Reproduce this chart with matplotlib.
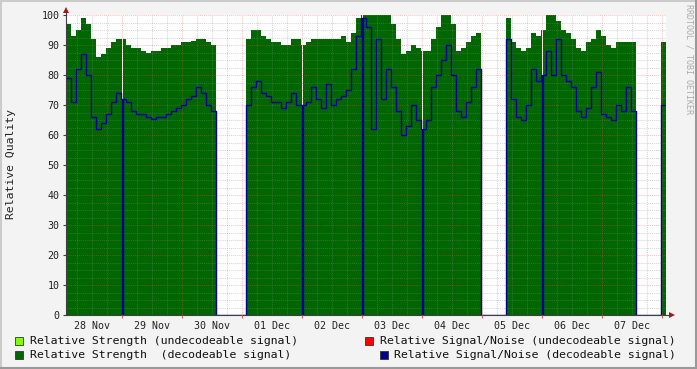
import numpy as np
import matplotlib
matplotlib.use("Agg")
import matplotlib.pyplot as plt
import matplotlib.transforms as mtransforms
from matplotlib.patches import Rectangle
from matplotlib.lines import Line2D

# ---------------- data ----------------
start_hour = 1.5      # hours after 28 Nov 00:00
step_hours = 2.0      # consolidation step
nan = np.nan

strength = [97, 93, 95, 99, 97, 92, 86, 87, 89, 91,
            92, 92, 90, 89, 89, 88, 87.5, 88, 88, 89,
            89, 90, 90, 91, 91, 91.5, 92, 92, 91, 90,
            nan, nan, nan, nan, nan, nan, 92, 95, 95, 93,
            92, 91, 91, 90, 90, 92, 92, 90, 91, 92,
            92, 92, 92, 92, 92, 93, 91, 94, 99, 100,
            100, 100, 100, 100, 100, 97, 92, 87, 88, 90,
            89, 88, 88, 92, 96, 100, 100, 97, 88, 89,
            91, 93, 94, nan, nan, nan, nan, nan, 99, 91,
            89, 88, 89, 94, 93, 95, 100, 100, 98, 95,
            94, 92, 89, 88, 91, 92, 95, 93, 90, 89,
            91, 91, 91, 91, nan, nan, nan, nan, nan, 91]

snr = [79, 71, 82, 87, 80, 66, 62, 64, 67, 71,
       74, 72, 71, 68, 67, 67, 66, 65.5, 66, 66,
       67, 68, 69, 70, 72, 73, 76, 74, 70, 68,
       nan, nan, nan, nan, nan, nan, 70, 76, 78, 74,
       73, 71, 71, 69, 71, 74, 70, 70, 71, 76,
       72, 69, 77, 70, 72, 73, 75, 82, 93, 99,
       96, 62, 92, 72, 82, 76, 68, 60, 63, 70,
       65, 62, 65, 76, 80, 85, 90, 80, 68, 66,
       71, 76, 82, nan, nan, nan, nan, nan, 92, 72,
       66, 65, 70, 82, 78, 80, 88, 80, 92, 80,
       78, 76, 68, 66, 69, 76, 81, 67, 66, 65,
       70, 68, 76, 68, nan, nan, nan, nan, nan, 70]

dropouts = [23.75, 95.75, 119.75, 143.75, 191.75]   # short outages (hours)
dropout_len = 0.5
day_labels = ["28 Nov", "29 Nov", "30 Nov", "01 Dec", "02 Dec",
              "03 Dec", "04 Dec", "05 Dec", "06 Dec", "07 Dec"]

legend_items = [
    ("Relative Strength (undecodeable signal)", "#80FF00"),
    ("Relative Strength  (decodeable signal)", "#006600"),
    ("Relative Signal/Noise (undecodeable signal)", "#FF0000"),
    ("Relative Signal/Noise (decodeable signal)", "#000099"),
]

# ---------------- build series ----------------
n = len(strength)
t = start_hour + step_hours * np.arange(n)
t_end = start_hour + step_hours * n


def with_dropouts(vals, fill):
    vals = np.asarray(vals, dtype=float)
    tt = list(t)
    vv = list(vals)
    for d in dropouts:
        i = int((d - start_hour) // step_hours)
        tt += [d, d + dropout_len]
        vv += [fill, vals[i]]
    order = np.argsort(tt, kind="stable")
    tt = np.array(tt)[order]
    vv = np.array(vv)[order]
    tt = np.append(tt, t_end)
    vv = np.append(vv, vv[-1])
    return tt, np.nan_to_num(vv, nan=0.0)


tg, gv = with_dropouts(strength, nan)
tb, bv = with_dropouts(snr, 0.0)

# ---------------- figure ----------------
W, H = 697, 369
fig = plt.figure(figsize=(W / 100, H / 100), dpi=100)
fig.patch.set_facecolor("#F3F3F3")
mono = "DejaVu Sans Mono"

L, R, T, B = 66, 666, 15, 315
ax = fig.add_axes([L / W, 1 - B / H, (R - L) / W, (B - T) / H])
ax.set_facecolor("white")
ax.set_xlim(start_hour, t_end)
ax.set_ylim(0, 100)

ax.fill_between(tg, 0, gv, step="post", color="#006600", lw=0, zorder=2)

# grid
dot = (0, (1.0, 1.0))
minor_c = (0.55, 0.55, 0.55, 0.35)
major_c = (0.92, 0.35, 0.35, 0.35)
for y in np.arange(2.5, 100, 2.5):
    if y % 10:
        ax.axhline(y, color=minor_c, lw=0.75, ls=dot, zorder=3)
for x in np.arange(6, t_end, 6):
    if x % 24:
        ax.axvline(x, color=minor_c, lw=0.75, ls=dot, zorder=3)
for y in np.arange(10, 101, 10):
    ax.axhline(y, color=major_c, lw=0.75, ls=dot, zorder=3)
midnights = np.arange(24, t_end, 24)
for x in midnights:
    ax.axvline(x, color=major_c, lw=0.75, ls=dot, zorder=3)

ax.step(tb, bv, where="post", color="#000099", lw=1.0, zorder=4)

# axes styling
for s in ["top", "right", "bottom"]:
    ax.spines[s].set_visible(False)
ax.spines["left"].set_color("#404040")
ax.spines["left"].set_linewidth(0.8)
ax.spines["left"].set_zorder(5)
ax.plot([0, 1 + 4 / 600], [0, 0], transform=ax.transAxes, color="#404040",
        lw=0.8, clip_on=False, zorder=5)
ax.plot([0, 0], [1, 1 + 4 / 300], transform=ax.transAxes, color="#404040",
        lw=0.8, clip_on=False, zorder=5)
ax.plot([0], [1 + 5 / 300], marker="^", ms=4.5, color="#A01818",
        transform=ax.transAxes, clip_on=False, zorder=6, mew=0)
ax.plot([1 + 6 / 600], [0], marker=">", ms=4.5, color="#A01818",
        transform=ax.transAxes, clip_on=False, zorder=6, mew=0)

ax.set_yticks(np.arange(0, 101, 10))
ax.set_yticklabels([str(v) for v in range(0, 101, 10)], fontfamily=mono,
                   fontsize=7.2, color="#222222")
ax.tick_params(axis="y", length=2.5, width=0.8, color="#404040", pad=2)

noons = np.arange(12, t_end, 24)
ax.set_xticks(noons[:len(day_labels)])
ax.set_xticklabels(day_labels, fontfamily=mono, fontsize=7.2, color="#222222")
ax.tick_params(axis="x", length=0, pad=4.5)
trans = mtransforms.blended_transform_factory(ax.transData, ax.transAxes)
ax.vlines(midnights, -3 / 300, 0, transform=trans, color="#E06060", lw=0.8,
          clip_on=False, zorder=5)

fig.text(11 / W, 1 - 164 / H, "Relative Quality", rotation=90, ha="center",
         va="center", fontfamily=mono, fontsize=8.2, color="#222222")
fig.text(689 / W, 1 - 4 / H, "RRDTOOL / TOBI OETIKER", rotation=270,
         ha="center", va="top", fontfamily=mono, fontsize=6, color="#AAAAAA")

# legend
positions = [(15, 337, 30), (15, 351, 30), (365, 337, 380), (379.5, 351, 394)]
for (label, col), (sx, sy, tx) in zip(legend_items, positions):
    fig.patches.append(Rectangle((sx / W, 1 - (sy + 8) / H), 8 / W, 8 / H,
                                 transform=fig.transFigure, facecolor=col,
                                 edgecolor="#333333", lw=0.6))
    fig.text(tx / W, 1 - (sy + 4.5) / H, label, ha="left", va="center",
             fontfamily=mono, fontsize=8.25, color="#111111")

# outer shade border
fig.add_artist(Line2D([0, 1], [1 - 1 / H, 1 - 1 / H], transform=fig.transFigure,
                      color="#CBCBCB", lw=1.5))
fig.add_artist(Line2D([1 / W, 1 / W], [0, 1], transform=fig.transFigure,
                      color="#CBCBCB", lw=1.5))
fig.add_artist(Line2D([0, 1], [1 / H, 1 / H], transform=fig.transFigure,
                      color="#999999", lw=1.5))
fig.add_artist(Line2D([1 - 1 / W, 1 - 1 / W], [0, 1], transform=fig.transFigure,
                      color="#999999", lw=1.5))

fig.savefig("out.png", dpi=100, facecolor=fig.get_facecolor())
